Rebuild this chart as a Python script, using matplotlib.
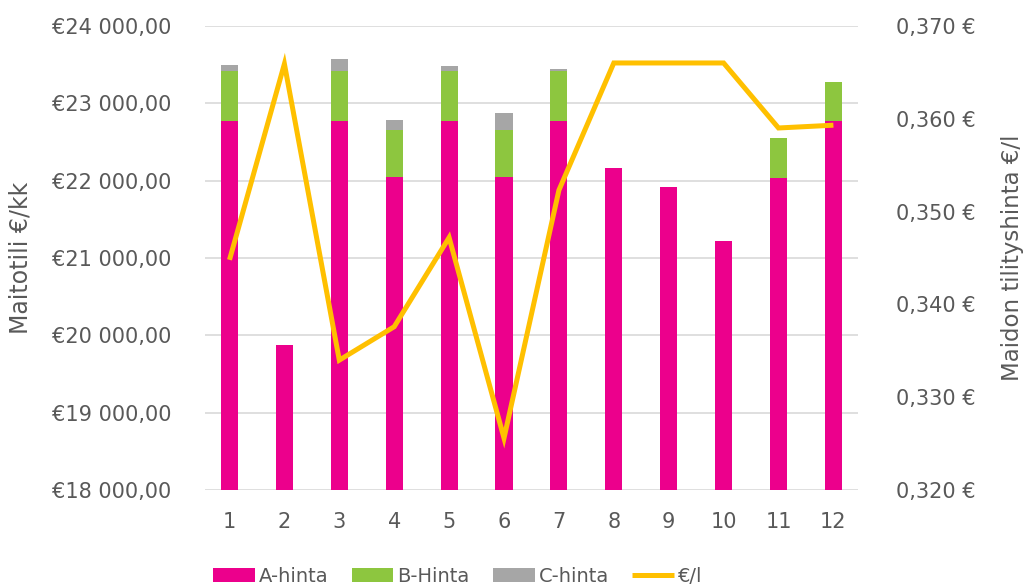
import matplotlib.pyplot as plt
import numpy as np
from matplotlib.ticker import FuncFormatter

# Data
kuukaudet = [1, 2, 3, 4, 5, 6, 7, 8, 9, 10, 11, 12]
a_hinta = [22772, 19875, 22772, 22047, 22772, 22047, 22772, 22164, 21918, 21220, 22040, 22772]
a_plus_b = [23418, 19875, 23418, 22659, 23410, 22659, 23410, 22164, 21918, 21220, 22552, 23276]
yhteensa = [23496, 19875, 23573, 22784, 23483, 22875, 23444, 22164, 21918, 21220, 22552, 23276]
euro_per_l = [0.3448, 0.3659, 0.3340, 0.3376, 0.3472, 0.3256, 0.3523, 0.3660, 0.3660, 0.3660, 0.3590, 0.3593]

a = np.array(a_hinta)
b = np.array(a_plus_b) - a
c = np.array(yhteensa) - np.array(a_plus_b)

harmaa = '#595959'
plt.rcParams['font.family'] = ['DejaVu Sans']

fig = plt.figure(figsize=(10.24, 5.87), dpi=100)
ax = fig.add_axes([0.2, 0.165, 0.638, 0.791])
ax2 = ax.twinx()

x = np.arange(len(kuukaudet))
w = 0.31
alku = 18000
ax.bar(x, a - alku, w, bottom=alku, color='#EC008C', label='A-hinta', zorder=3)
ax.bar(x, b, w, bottom=a, color='#8DC63F', label='B-Hinta', zorder=3)
ax.bar(x, c, w, bottom=a + b, color='#A6A6A6', label='C-hinta', zorder=3)

ax2.plot(x, euro_per_l, color='#FFC000', linewidth=3.6, label='€/l',
         solid_capstyle='butt', solid_joinstyle='miter', zorder=4)

ax.set_ylim(18000, 24000)
ax.set_yticks(np.arange(18000, 24001, 1000))
ax.yaxis.set_major_formatter(FuncFormatter(
    lambda v, p: '€' + f'{v:,.2f}'.replace(',', ' ').replace('.', ',')))
ax2.set_ylim(0.320, 0.370)
ax2.set_yticks(np.arange(0.320, 0.3701, 0.01))
ax2.yaxis.set_major_formatter(FuncFormatter(
    lambda v, p: f'{v:.3f}'.replace('.', ',') + ' €'))

ax.set_xlim(-0.45, 11.45)
ax.set_xticks(x)
ax.set_xticklabels([str(k) for k in kuukaudet])
ax.grid(axis='y', color='#D9D9D9', linewidth=1.2, zorder=0)
ax.set_axisbelow(True)

for a_ in (ax, ax2):
    for s in a_.spines.values():
        s.set_visible(False)
    a_.tick_params(length=0, labelsize=15, colors=harmaa)
ax.tick_params(axis='y', pad=24)
ax.tick_params(axis='x', pad=16)
ax2.tick_params(axis='y', pad=27.5)

ax.set_ylabel('Maitotili €/kk', fontsize=17, color=harmaa, labelpad=14)
ax2.set_ylabel('Maidon tilityshinta €/l', fontsize=16.5, color=harmaa, labelpad=18)

h1, l1 = ax.get_legend_handles_labels()
h2, l2 = ax2.get_legend_handles_labels()
fig.legend(h1 + h2, l1 + l2, loc='lower center', bbox_to_anchor=(0.447, -0.028),
           ncol=4, frameon=False, fontsize=14, labelcolor=harmaa,
           handlelength=2.15, handletextpad=0.2, columnspacing=1.2)

fig.savefig('out.png', dpi=100)
